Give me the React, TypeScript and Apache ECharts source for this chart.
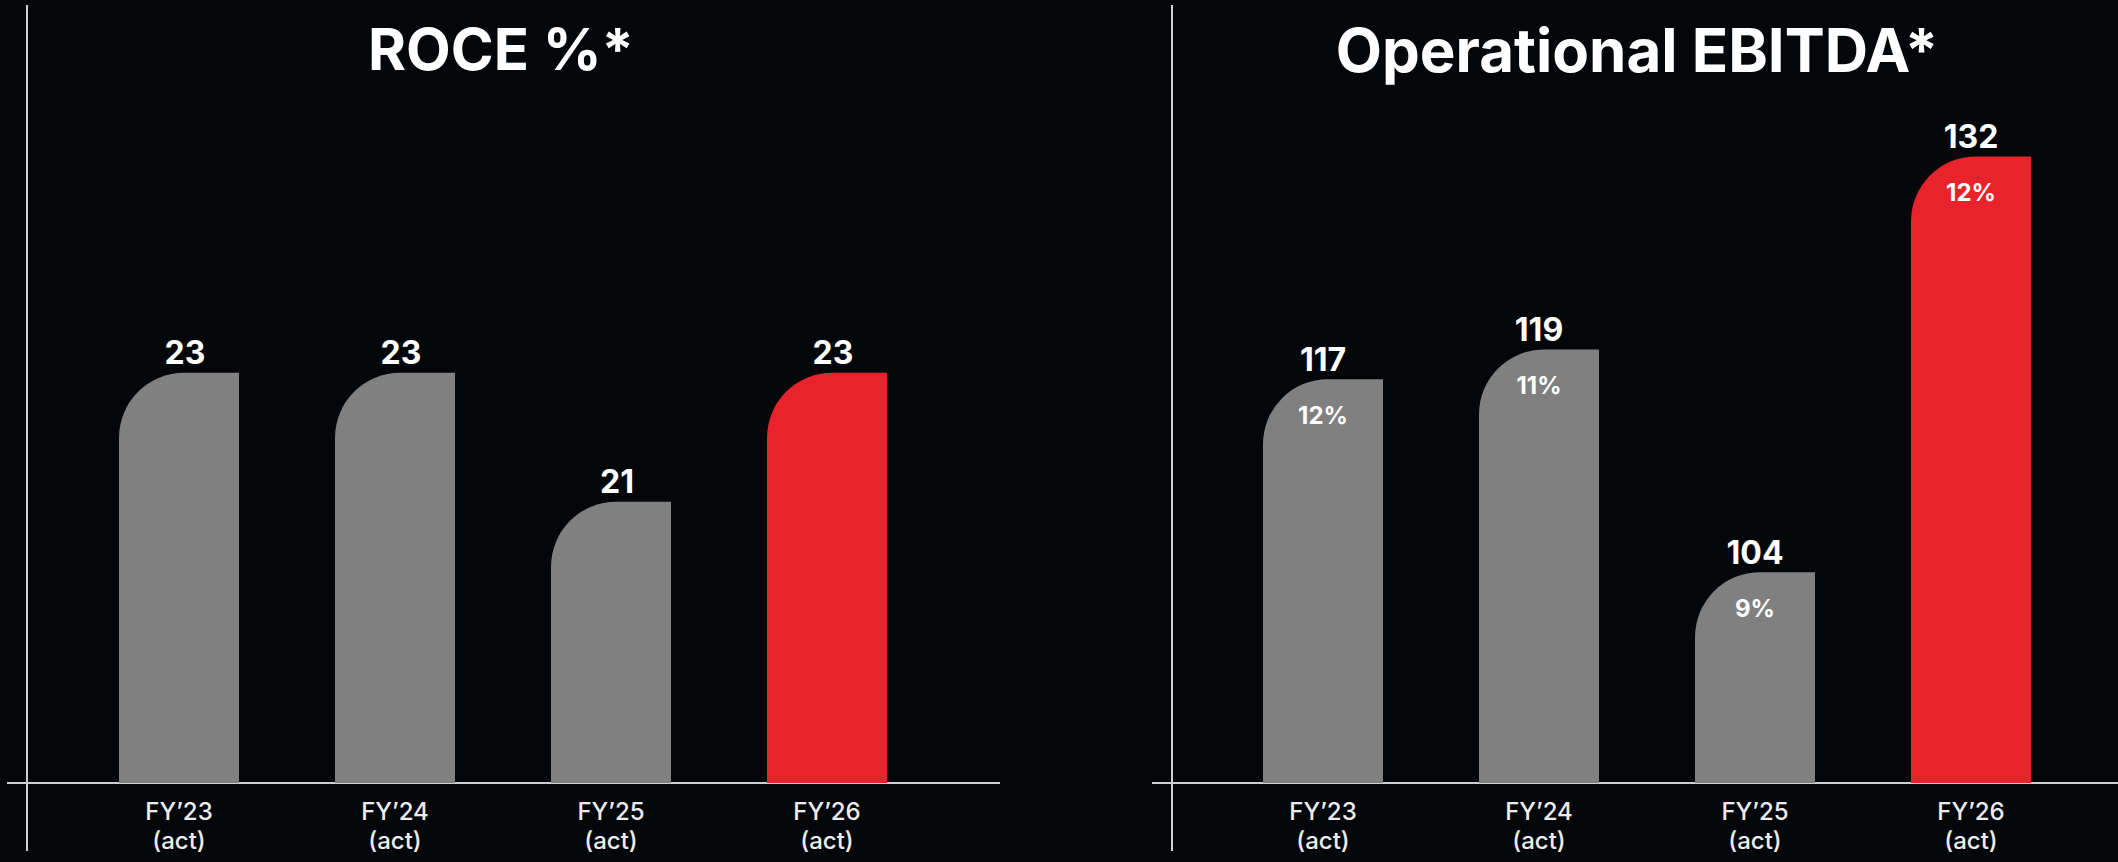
import React, { useEffect, useRef } from "react";
import * as echarts from "echarts";

// ---- Data ----
const categories = ["FY\u201923", "FY\u201924", "FY\u201925", "FY\u201926"];
const periodNote = "(act)";
const highlightCategory = "FY\u201926";

const roceTitle = "ROCE %*";
const roceValues = [23, 23, 21, 23];

const ebitdaTitle = "Operational EBITDA*";
const ebitdaValues = [117, 119, 104, 132];
const ebitdaMargins = ["12%", "11%", "9%", "12%"];

// ---- Styles ----
const BG = "#04070a";
const GREY = "#7f807f";
const RED = "#e8232b";
const LINE = "#cfcfcf";
const FONT = "Inter, 'Noto Sans', sans-serif";

const W = 2118;
const H = 862;
const AXIS_Y = 783;

const barColor = (p: any) => (categories[p.dataIndex] === highlightCategory ? RED : GREY);

export default function App() {
  const ref = useRef<HTMLDivElement>(null);

  useEffect(() => {
    document.body.style.margin = "0";
    document.body.style.background = BG;
    if (!ref.current) return;
    const chart = echarts.init(ref.current, undefined, { renderer: "svg" });

    const xAxisCommon = {
      type: "category" as const,
      data: categories,
      axisLine: { show: false },
      axisTick: { show: false },
      axisLabel: {
        formatter: (v: string) => `${v}\n${periodNote}`,
        color: "#ededed",
        fontSize: 24,
        lineHeight: 29,
        margin: 14,
        fontFamily: FONT,
        fontWeight: 500,
      },
    };

    const titleStyle = { color: "#ffffff", fontSize: 58, fontWeight: "bold", fontFamily: FONT };

    const option: any = {
      animation: false,
      backgroundColor: BG,
      title: [
        {
          text: roceTitle,
          left: 501,
          top: 20,
          padding: 0,
          textAlign: "center",
          textVerticalAlign: "top",
          textStyle: titleStyle,
        },
        {
          text: ebitdaTitle,
          left: 1637,
          top: 20,
          padding: 0,
          textAlign: "center",
          textVerticalAlign: "top",
          textStyle: { ...titleStyle, fontSize: 60 },
        },
      ],
      grid: [
        { left: 71, width: 864, top: 100, bottom: H - AXIS_Y, outerBoundsMode: "none" },
        { left: 1215, width: 864, top: 100, bottom: H - AXIS_Y, outerBoundsMode: "none" },
      ],
      xAxis: [
        { ...xAxisCommon, gridIndex: 0 },
        { ...xAxisCommon, gridIndex: 1 },
      ],
      yAxis: [
        { type: "value", gridIndex: 0, show: false, min: 16.64, max: 27.23, splitLine: { show: false } },
        { type: "value", gridIndex: 1, show: false, min: 89.8, max: 135.8, splitLine: { show: false } },
      ],
      series: [
        {
          type: "bar",
          name: "ROCE",
          xAxisIndex: 0,
          yAxisIndex: 0,
          data: roceValues,
          barWidth: 120,
          itemStyle: { color: barColor, borderRadius: [65, 0, 0, 0] },
          label: {
            show: true,
            position: "top",
            distance: 4,
            offset: [6, 0],
            color: "#ffffff",
            fontSize: 32,
            fontWeight: "bold",
            fontFamily: FONT,
          },
        },
        {
          type: "bar",
          name: "Operational EBITDA",
          xAxisIndex: 1,
          yAxisIndex: 1,
          data: ebitdaValues,
          barWidth: 120,
          barGap: "-100%",
          itemStyle: { color: barColor, borderRadius: [65, 0, 0, 0] },
          label: {
            show: true,
            position: "top",
            distance: 4,
            color: "#ffffff",
            fontSize: 32,
            fontWeight: "bold",
            fontFamily: FONT,
          },
        },
        {
          type: "bar",
          name: "EBITDA margin",
          xAxisIndex: 1,
          yAxisIndex: 1,
          data: ebitdaValues,
          barWidth: 120,
          barGap: "-100%",
          silent: true,
          z: 3,
          itemStyle: { color: "rgba(0,0,0,0)" },
          label: {
            show: true,
            position: "insideTop",
            distance: 24,
            formatter: (p: any) => ebitdaMargins[p.dataIndex],
            color: "#ffffff",
            fontSize: 24,
            fontWeight: "bold",
            fontFamily: FONT,
          },
        },
      ],
      graphic: [
        { type: "line", shape: { x1: 27, y1: 5, x2: 27, y2: 851 }, style: { stroke: LINE, lineWidth: 2 } },
        { type: "line", shape: { x1: 7, y1: AXIS_Y, x2: 1000, y2: AXIS_Y }, style: { stroke: LINE, lineWidth: 2 } },
        { type: "line", shape: { x1: 1172, y1: 5, x2: 1172, y2: 851 }, style: { stroke: LINE, lineWidth: 2 } },
        { type: "line", shape: { x1: 1152, y1: AXIS_Y, x2: W, y2: AXIS_Y }, style: { stroke: LINE, lineWidth: 2 } },
      ],
    };

    chart.setOption(option);
    return () => chart.dispose();
  }, []);

  return <div ref={ref} style={{ width: W, height: H }} />;
}
